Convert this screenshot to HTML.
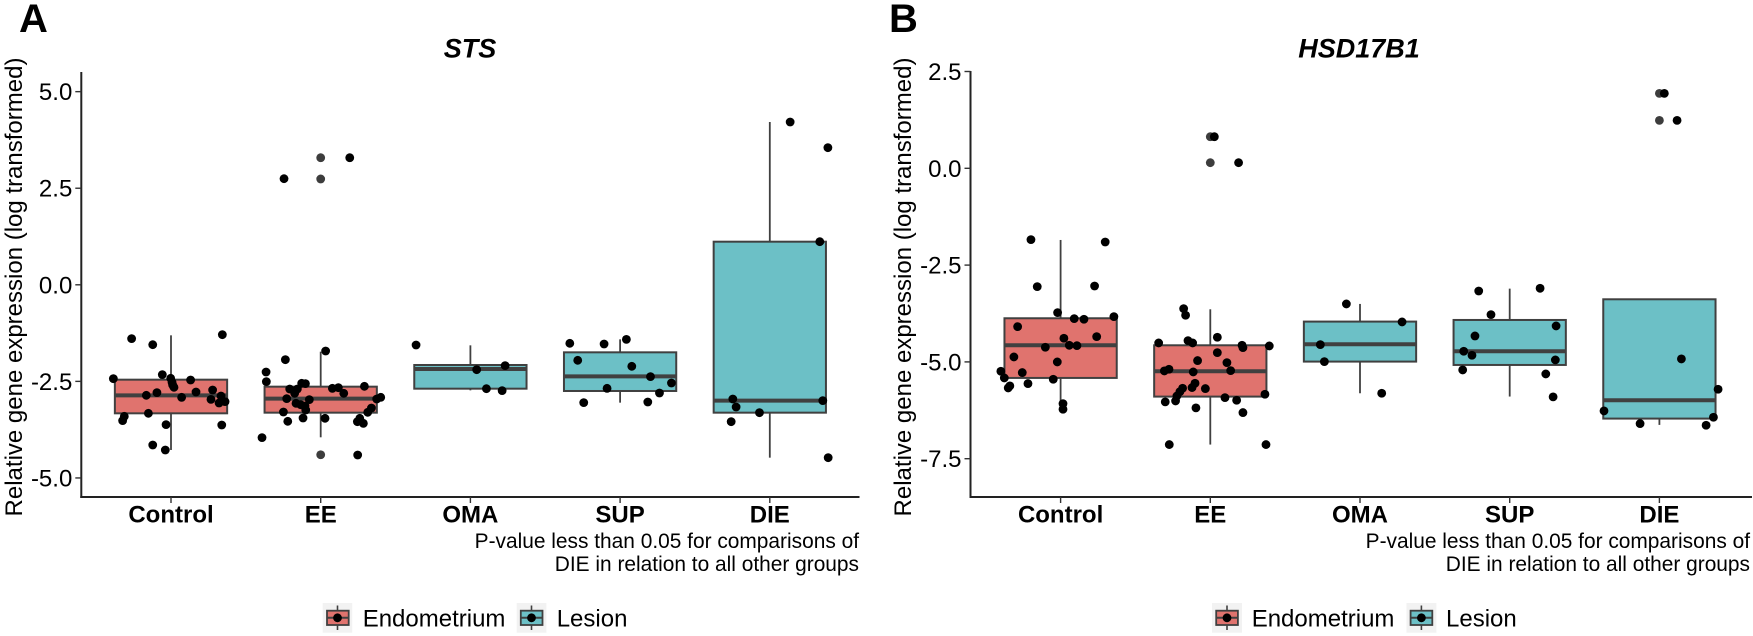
<!DOCTYPE html>
<html lang="en">
<head>
<meta charset="utf-8">
<title>STS and HSD17B1 relative gene expression</title>
<style>
html,body{margin:0;padding:0;background:#fff;width:1753px;height:636px;overflow:hidden}
svg{display:block;font-family:"Liberation Sans",Arial,sans-serif}
text{fill:#000}
</style>
</head>
<body>
<svg id="chart" width="1753" height="636" viewBox="0 0 1753 636" xmlns="http://www.w3.org/2000/svg">
  <g id="panel-a">
    <text x="19" y="32" font-size="40" font-weight="700">A</text>
    <text x="470" y="57.5" font-size="27" font-weight="700" font-style="italic" text-anchor="middle">STS</text>
    <text transform="translate(22,287) rotate(-90)" font-size="24" text-anchor="middle">Relative gene expression (log transformed)</text>
    <text x="859" y="548" font-size="20.9" text-anchor="end">P-value less than 0.05 for comparisons of</text>
    <text x="859" y="571" font-size="20.9" text-anchor="end">DIE in relation to all other groups</text>
    <g>
      <g>
        <rect x="322.7" y="603" width="29.5" height="29.7" fill="#f2f2f2"/>
        <line x1="337.5" x2="337.5" y1="605.5" y2="630" stroke="#404040" stroke-width="1.6"/>
        <rect x="327" y="610.7" width="21.7" height="14.3" fill="#e0736e" stroke="#404040" stroke-width="1.8"/>
        <line x1="327" x2="348.7" y1="617.8" y2="617.8" stroke="#404040" stroke-width="2"/>
        <circle cx="337.5" cy="617.8" r="4.4" fill="#000"/>
      </g>
      <text x="362.7" y="626.7" font-size="24">Endometrium</text>
      <g>
        <rect x="516.7" y="603" width="29.7" height="29.7" fill="#f2f2f2"/>
        <line x1="531.5" x2="531.5" y1="605.5" y2="630" stroke="#404040" stroke-width="1.6"/>
        <rect x="520.8" y="610.7" width="21.7" height="14.3" fill="#6cc0c6" stroke="#404040" stroke-width="1.8"/>
        <line x1="520.8" x2="542.5" y1="617.8" y2="617.8" stroke="#404040" stroke-width="2"/>
        <circle cx="531.5" cy="617.8" r="4.4" fill="#000"/>
      </g>
      <text x="556.7" y="626.7" font-size="24">Lesion</text>
    </g>
  </g>
  <g id="panel-b">
    <text x="889" y="32" font-size="40" font-weight="700">B</text>
    <text x="1359" y="57.5" font-size="27" font-weight="700" font-style="italic" text-anchor="middle">HSD17B1</text>
    <text transform="translate(911,287) rotate(-90)" font-size="24" text-anchor="middle">Relative gene expression (log transformed)</text>
    <text x="1750" y="548" font-size="20.9" text-anchor="end">P-value less than 0.05 for comparisons of</text>
    <text x="1750" y="571" font-size="20.9" text-anchor="end">DIE in relation to all other groups</text>
    <g>
      <g>
        <rect x="1212" y="603" width="30" height="29.7" fill="#f2f2f2"/>
        <line x1="1227" x2="1227" y1="605.5" y2="630" stroke="#404040" stroke-width="1.6"/>
        <rect x="1216.2" y="610.7" width="21.7" height="14.3" fill="#e0736e" stroke="#404040" stroke-width="1.8"/>
        <line x1="1216.2" x2="1237.9" y1="617.8" y2="617.8" stroke="#404040" stroke-width="2"/>
        <circle cx="1227" cy="617.8" r="4.4" fill="#000"/>
      </g>
      <text x="1251.7" y="626.7" font-size="24">Endometrium</text>
      <g>
        <rect x="1406.4" y="603" width="30" height="29.7" fill="#f2f2f2"/>
        <line x1="1421.4" x2="1421.4" y1="605.5" y2="630" stroke="#404040" stroke-width="1.6"/>
        <rect x="1410.6" y="610.7" width="21.7" height="14.3" fill="#6cc0c6" stroke="#404040" stroke-width="1.8"/>
        <line x1="1410.6" x2="1432.3" y1="617.8" y2="617.8" stroke="#404040" stroke-width="2"/>
        <circle cx="1421.4" cy="617.8" r="4.4" fill="#000"/>
      </g>
      <text x="1446" y="626.7" font-size="24">Lesion</text>
    </g>
  </g>
</svg>
<script>
// Shared categories
const categories = ["Control", "EE", "OMA", "SUP", "DIE"];
const tissueGroups = ["endometrium", "endometrium", "lesion", "lesion", "lesion"];

// Panel A (STS) axis ticks
const stsTicks = [-5, -2.5, 0, 2.5, 5];

// Panel A box statistics, one value per category
const stsWhiskerLow = [-4.276, -3.948, -2.732, -3.051, -4.475];
const stsQ1 = [-3.327, -3.310, -2.689, -2.749, -3.310];
const stsMedian = [-2.861, -2.947, -2.180, -2.369, -2.999];
const stsQ3 = [-2.456, -2.637, -2.076, -1.748, 1.116];
const stsWhiskerHigh = [-1.308, -1.731, -1.567, -1.412, 4.214];

// Panel A boxplot outliers
const stsOutlierCategories = [1, 1, 1];
const stsOutlierValues = [3.29, 2.74, -4.40];

// Panel A jittered points
const stsControlJitter = [-0.263, -0.122, 0.343, -0.385, -0.058, -0.002, 0.007, 0.011, 0.020, 0.131, -0.165, -0.094, 0.071, 0.167, 0.278, 0.267, 0.334, 0.321, 0.361, -0.312, -0.323, -0.151, -0.033, 0.339, -0.122, -0.038];
const stsControlValues = [-1.394, -1.550, -1.291, -2.430, -2.326, -2.421, -2.525, -2.594, -2.654, -2.464, -2.861, -2.792, -2.913, -2.775, -2.723, -2.965, -2.878, -3.060, -3.025, -3.405, -3.517, -3.327, -3.620, -3.629, -4.147, -4.276];
const stsEEJitter = [0.033, -0.236, -0.365, -0.363, -0.127, -0.102, 0.292, -0.207, -0.156, -0.174, 0.078, 0.118, 0.154, -0.227, -0.076, 0.374, 0.401, -0.165, -0.134, -0.105, -0.100, 0.339, 0.314, -0.249, -0.220, -0.118, 0.029, 0.261, 0.245, 0.285, -0.392, 0.247, -0.245, 0.194];
const stsEEValues = [-1.714, -1.938, -2.257, -2.507, -2.550, -2.559, -2.628, -2.697, -2.697, -2.809, -2.680, -2.663, -2.809, -2.947, -2.973, -2.956, -2.913, -3.068, -3.103, -3.137, -3.241, -3.189, -3.301, -3.293, -3.534, -3.448, -3.456, -3.456, -3.543, -3.586, -3.957, -4.406, 2.747, 3.290];
const stsOMAJitter = [-0.363, 0.042, 0.232, 0.107, 0.212];
const stsOMAValues = [-1.558, -2.197, -2.093, -2.689, -2.740];
const stsSUPJitter = [-0.336, -0.107, 0.042, -0.283, 0.078, 0.203, 0.343, -0.087, 0.263, -0.243, 0.185];
const stsSUPValues = [-1.515, -1.532, -1.412, -1.955, -2.110, -2.378, -2.542, -2.680, -2.801, -3.051, -3.034];
const stsDIEJitter = [0.136, 0.388, 0.334, 0.354, -0.247, -0.225, -0.069, -0.258, 0.390];
const stsDIEValues = [4.214, 3.550, 1.116, -2.999, -2.956, -3.163, -3.310, -3.543, -4.475];

// Panel B (HSD17B1) axis ticks
const hsdTicks = [-7.5, -5, -2.5, 0, 2.5];

// Panel B box statistics, one value per category
const hsdWhiskerLow = [-6.197, -7.135, -5.810, -5.895, -6.627];
const hsdQ1 = [-5.414, -5.896, -4.992, -5.079, -6.464];
const hsdMedian = [-4.571, -5.242, -4.544, -4.725, -5.990];
const hsdQ3 = [-3.873, -4.571, -3.959, -3.917, -3.383];
const hsdWhiskerHigh = [-1.851, -3.641, -3.503, -3.108, -3.383];

// Panel B boxplot outliers
const hsdOutlierCategories = [1, 1, 4, 4];
const hsdOutlierValues = [0.816, 0.145, 1.935, 1.238];

// Panel B jittered points
const hsdControlJitter = [-0.198, 0.298, -0.156, 0.227, -0.020, 0.091, 0.156, 0.356, -0.287, 0.241, 0.022, -0.102, 0.058, 0.109, -0.312, -0.022, -0.399, -0.376, -0.256, -0.218, -0.049, -0.339, -0.350, 0.016, 0.016];
const hsdControlValues = [-1.843, -1.903, -3.056, -3.039, -3.727, -3.882, -3.899, -3.830, -4.089, -4.347, -4.390, -4.622, -4.571, -4.579, -4.872, -5.001, -5.242, -5.414, -5.276, -5.560, -5.448, -5.620, -5.672, -6.077, -6.223];
const hsdEEJitter = [-0.178, -0.165, -0.345, -0.149, -0.118, 0.047, 0.212, 0.218, 0.394, 0.047, -0.085, 0.111, -0.276, -0.307, -0.114, 0.136, -0.102, -0.122, -0.185, -0.203, -0.033, -0.223, -0.232, -0.301, 0.098, 0.176, 0.365, -0.096, 0.218, -0.274, 0.372, 0.027, 0.189];
const hsdEEValues = [-3.624, -3.796, -4.510, -4.450, -4.510, -4.364, -4.571, -4.631, -4.588, -4.760, -4.966, -5.018, -5.190, -5.233, -5.259, -5.225, -5.552, -5.663, -5.681, -5.767, -5.689, -5.879, -6.008, -6.033, -5.922, -5.991, -5.836, -6.188, -6.309, -7.135, -7.135, 0.816, 0.145];
const hsdOMAJitter = [-0.091, 0.281, -0.265, -0.238, 0.145];
const hsdOMAValues = [-3.503, -3.968, -4.553, -4.992, -5.810];
const hsdSUPJitter = [-0.207, 0.203, -0.125, -0.232, 0.310, -0.307, -0.252, 0.305, -0.314, 0.241, 0.290];
const hsdSUPValues = [-3.168, -3.099, -3.779, -4.330, -4.071, -4.725, -4.829, -4.949, -5.207, -5.311, -5.904];
const hsdDIEJitter = [0.033, 0.118, 0.147, 0.392, -0.370, 0.361, -0.129, 0.312];
const hsdDIEValues = [1.935, 1.238, -4.923, -5.706, -6.266, -6.429, -6.593, -6.636];

const SVGNS = "http://www.w3.org/2000/svg";
const tissueFill = { endometrium: "#e0736e", lesion: "#6cc0c6" };

function make(tag, attrs, parent, text) {
  const node = document.createElementNS(SVGNS, tag);
  for (const key in attrs) node.setAttribute(key, attrs[key]);
  if (text !== undefined) node.textContent = text;
  parent.appendChild(node);
  return node;
}

function drawPanel(cfg) {
  const root = document.getElementById(cfg.rootId);
  const xScale = c => cfg.xStart + cfg.xStep * c;
  const yScale = v => cfg.yZero - cfg.yUnit * v;
  const halfBox = cfg.xStep * 0.375;

  // y axis
  const yAxis = make("g", {}, root);
  
  
  make("line", { x1: cfg.axisX, x2: cfg.axisX, y1: cfg.axisTop, y2: cfg.axisBottom + 1, stroke: "#222", "stroke-width": 2 }, yAxis);
  cfg.ticks.forEach(t => {
    const py = yScale(t);
    const tick = make("line", { x1: cfg.axisX - 6, x2: cfg.axisX, y1: py, y2: py, stroke: "#333", "stroke-width": 1.4 }, yAxis);
    
    
    const label = make("text", { x: cfg.axisX - 9, y: py + 8.5, "font-size": 24, "text-anchor": "end" }, yAxis, t.toFixed(1));
    
    
  });

  // x axis
  const xAxis = make("g", {}, root);
  
  
  make("line", { x1: cfg.axisX - 1, x2: cfg.axisRight, y1: cfg.axisBottom, y2: cfg.axisBottom, stroke: "#222", "stroke-width": 2 }, xAxis);
  categories.forEach((name, c) => {
    const px = xScale(c);
    const tick = make("line", { x1: px, x2: px, y1: cfg.axisBottom, y2: cfg.axisBottom + 6, stroke: "#333", "stroke-width": 1.4 }, xAxis);
    
    
    const label = make("text", { x: px, y: 522.7, "font-size": 24, "font-weight": 700, "text-anchor": "middle" }, xAxis, name);
    
    
  });

  // boxes
  categories.forEach((name, c) => {
    const px = xScale(c);
    const group = make("g", {}, root);
    
    
    const stroke = { stroke: "#404040" };
    make("line", Object.assign({ x1: px, x2: px, y1: yScale(cfg.high[c]), y2: yScale(cfg.q3[c]), "stroke-width": 1.8 }, stroke), group);
    make("line", Object.assign({ x1: px, x2: px, y1: yScale(cfg.q1[c]), y2: yScale(cfg.low[c]), "stroke-width": 1.8 }, stroke), group);
    make("rect", Object.assign({ x: px - halfBox, y: yScale(cfg.q3[c]), width: halfBox * 2, height: yScale(cfg.q1[c]) - yScale(cfg.q3[c]), fill: tissueFill[tissueGroups[c]], "stroke-width": 2 }, stroke), group);
    make("line", Object.assign({ x1: px - halfBox, x2: px + halfBox, y1: yScale(cfg.median[c]), y2: yScale(cfg.median[c]), "stroke-width": 4 }, stroke), group);
  });

  // boxplot outliers
  cfg.outlierCats.forEach((c, i) => {
    const dot = make("circle", { cx: xScale(c), cy: yScale(cfg.outlierVals[i]), r: 4.4, fill: "#3d3d3d" }, root);
    
    
  });

  // jittered points
  cfg.jitter.forEach((offsets, c) => {
    offsets.forEach((j, i) => {
      const dot = make("circle", { cx: xScale(c + j), cy: yScale(cfg.values[c][i]), r: 4.4, fill: "#000" }, root);
      
      
    });
  });
}

drawPanel({
  rootId: "panel-a", xStart: 171, xStep: 149.7, yZero: 284.8, yUnit: 38.63,
  axisX: 81.3, axisTop: 72, axisBottom: 497, axisRight: 859.5,
  ticks: stsTicks, low: stsWhiskerLow, q1: stsQ1, median: stsMedian, q3: stsQ3, high: stsWhiskerHigh,
  outlierCats: stsOutlierCategories, outlierVals: stsOutlierValues,
  jitter: [stsControlJitter, stsEEJitter, stsOMAJitter, stsSUPJitter, stsDIEJitter],
  values: [stsControlValues, stsEEValues, stsOMAValues, stsSUPValues, stsDIEValues]
});

drawPanel({
  rootId: "panel-b", xStart: 1060.6, xStep: 149.7, yZero: 168.3, yUnit: 38.72,
  axisX: 970.5, axisTop: 71, axisBottom: 497, axisRight: 1752,
  ticks: hsdTicks, low: hsdWhiskerLow, q1: hsdQ1, median: hsdMedian, q3: hsdQ3, high: hsdWhiskerHigh,
  outlierCats: hsdOutlierCategories, outlierVals: hsdOutlierValues,
  jitter: [hsdControlJitter, hsdEEJitter, hsdOMAJitter, hsdSUPJitter, hsdDIEJitter],
  values: [hsdControlValues, hsdEEValues, hsdOMAValues, hsdSUPValues, hsdDIEValues]
});
</script>
</body>
</html>
